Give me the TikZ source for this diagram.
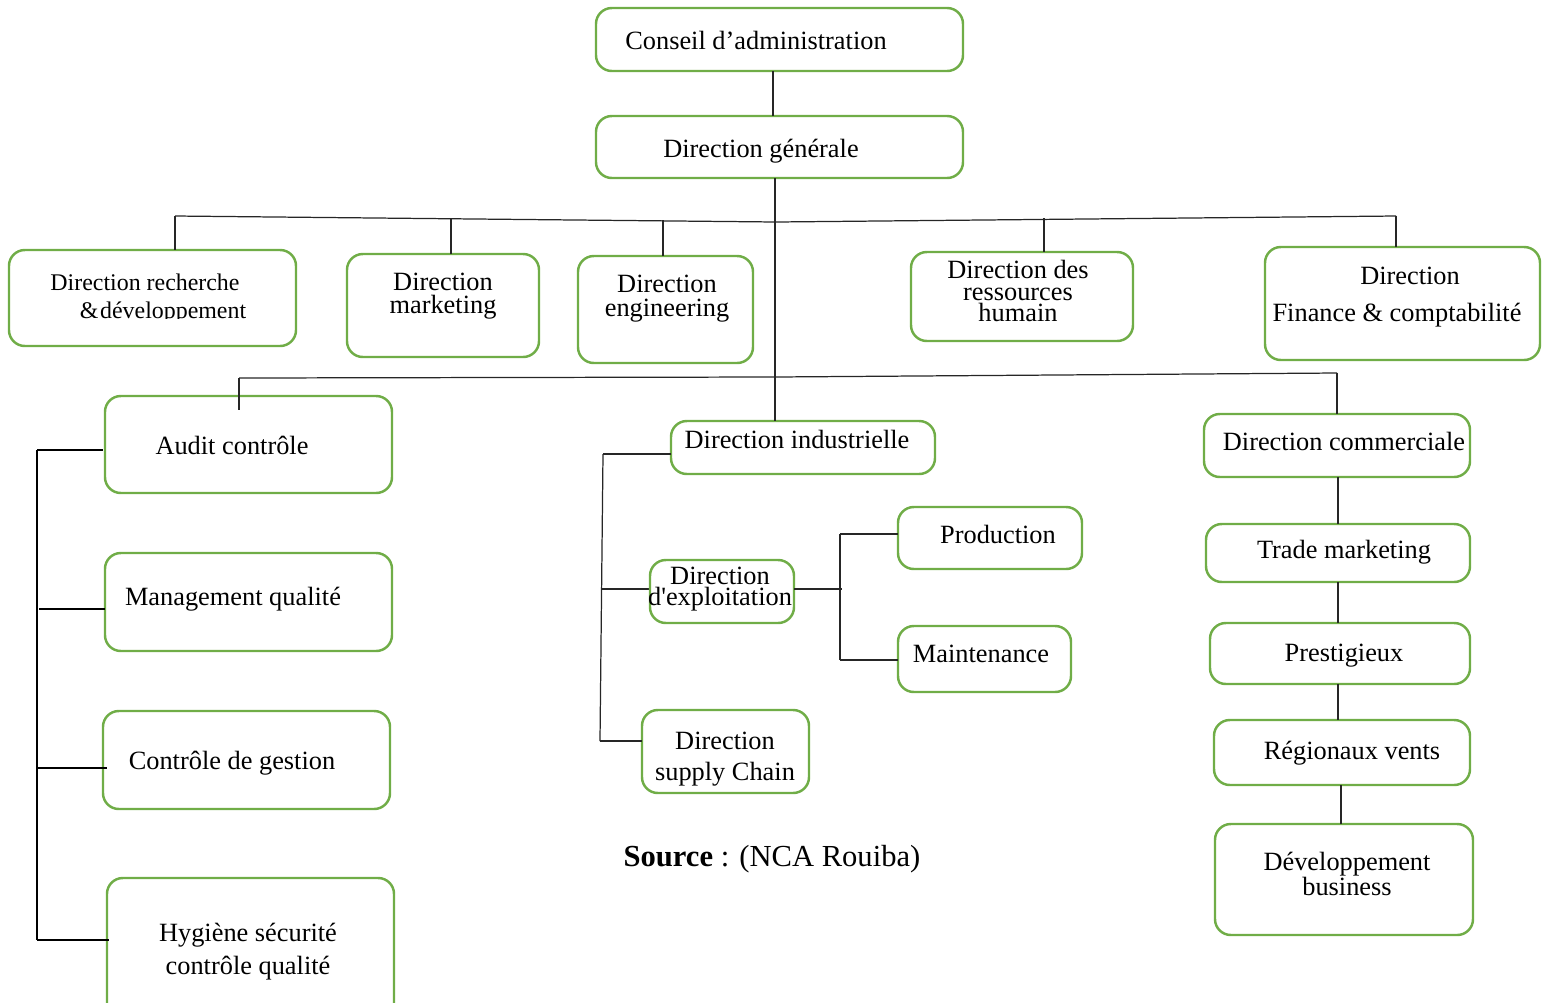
\documentclass[tikz,border=0pt]{standalone}
\usepackage{fontspec}
\setmainfont{Liberation Serif}
% same face without TeX ligature mapping, keeps the straight apostrophe
\newfontfamily\rawserif{Liberation Serif}
\usetikzlibrary{calc}
\definecolor{boxgreen}{RGB}{112,173,71}

% rounded box given by its corners (x1,y1) and (x2,y2) in pixel units
\newcommand\orgbox[5]{%
  \node[orgframe, minimum width={(#4-#2)*0.02cm}, minimum height={(#5-#3)*0.02cm}]
    (#1) at ({(#2+#4)/2},{(#3+#5)/2}) {};}

\tikzset{
  orgframe/.style={draw=boxgreen, line width=1.4pt, rounded corners=9pt,
                   inner sep=0pt, outer sep=0pt, fill=white},
  lbl/.style={inner sep=0pt, align=center, font=\fontsize{15}{18}\selectfont},
  link/.style={draw=black!85, line width=0.7pt},
  staff/.style={draw=black, line width=1.1pt},
}

\begin{document}
\begin{tikzpicture}[x=0.02cm, y=-0.02cm]
\useasboundingbox (0,0) rectangle (1549,1002);

% ---------- junction points ----------
\coordinate (cx0) at (773,0);
\coordinate (trunk) at (775,0);
\coordinate (b1L) at (175,216);
\coordinate (b1M) at (776,222);
\coordinate (b1R) at (1396,216);
\coordinate (dmk) at (451,219);
\coordinate (den) at (663,220);
\coordinate (drh) at (1044,218);
\coordinate (b2L) at (239,378);
\coordinate (b2M) at (775,377);
\coordinate (b2R) at (1337,373);
\coordinate (iL) at (603,454);
\coordinate (iM) at (601,589);
\coordinate (iB) at (600,741);
\coordinate (eM) at (842,589);
\coordinate (eT) at (840,534);
\coordinate (eB) at (840,660);
\coordinate (sT) at (37,450);
\coordinate (sM) at (39,609);
\coordinate (sC) at (37,768);
\coordinate (sB) at (37,940);
\coordinate (cxA) at (1338,0);
\coordinate (cxB) at (1341,0);

% ---------- connectors ----------
\draw[link] (b1L) -- (b1M) -- (b1R);
\draw[link] (b2L) -- (b2M) -- (b2R);
\draw[link] (iL) -- (iB);
\draw[link] (iM) -- ($(iM)+(49,0)$);
\draw[link] (eT) -- (eB);
\draw[staff] (sT) -- (sB);

% ---------- boxes ----------
\orgbox{conseil}{596}{8}{963}{71}
\orgbox{dg}{596}{116}{963}{178}
\orgbox{rd}{9}{250}{296}{346}
\orgbox{mk}{347}{254}{539}{357}
\orgbox{en}{578}{256}{753}{363}
\orgbox{rh}{911}{252}{1133}{341}
\orgbox{fin}{1265}{247}{1540}{360}
\orgbox{audit}{105}{396}{392}{493}
\orgbox{mq}{105}{553}{392}{651}
\orgbox{cg}{103}{711}{390}{809}
\orgbox{hyg}{107}{878}{394}{1020}
\orgbox{ind}{671}{421}{935}{474}
\orgbox{exp}{650}{560}{794}{623}
\orgbox{prod}{898}{507}{1082}{569}
\orgbox{maint}{898}{626}{1071}{692}
\orgbox{sup}{642}{710}{809}{793}
\orgbox{com}{1204}{414}{1470}{477}
\orgbox{trade}{1206}{524}{1470}{582}
\orgbox{prest}{1210}{623}{1470}{684}
\orgbox{reg}{1214}{720}{1470}{785}
\orgbox{devb}{1215}{824}{1473}{935}

% ---------- links touching the boxes ----------
\draw[link] (conseil.south -| cx0) -- (dg.north -| cx0);
\draw[link] (dg.south -| trunk) -- (ind.north -| trunk);
\draw[link] (b1L) -- (rd.north -| b1L);
\draw[link] (dmk) -- (mk.north -| dmk);
\draw[link] (den) -- (en.north -| den);
\draw[link] (drh) -- (rh.north -| drh);
\draw[link] (b1R) -- (fin.north -| b1R);
\draw[link] (b2L) -- ($(audit.north -| b2L)+(0,14)$);
\draw[link] (b2R) -- (com.north -| b2R);
\draw[link] (ind.west |- iL) -- (iL);
\draw[link] (iB) -- (sup.west |- iB);
\draw[link] (exp.east |- eM) -- (eM);
\draw[link] (eT) -- (prod.west |- eT);
\draw[link] (eB) -- (maint.west |- eB);
\draw[staff] (sT) -- ($(audit.west |- sT)+(-2,0)$);
\draw[staff] (sM) -- (mq.west |- sM);
\draw[staff] (sC) -- ($(cg.west |- sC)+(4,0)$);
\draw[staff] (sB) -- ($(hyg.west |- sB)+(2,0)$);
\draw[link] (com.south -| cxA) -- (trade.north -| cxA);
\draw[link] (trade.south -| cxA) -- (prest.north -| cxA);
\draw[link] (prest.south -| cxA) -- (reg.north -| cxA);
\draw[link] (reg.south -| cxB) -- (devb.north -| cxB);

% ---------- labels ----------
\node[lbl] (tconseil) at (756,40) {Conseil d’administration};
\node[lbl] (tdg) at (761,151) {Direction générale};
\begin{scope}
  \clip (9,250) rectangle (296,318);
  \node[lbl, font=\fontsize{13.6}{16}\selectfont] (trd1) at (145,282) {Direction recherche};
  \node[lbl, font=\fontsize{13.6}{16}\selectfont] (trd2) at (163,313) {\&\kern1pt développement};
\end{scope}
\node[lbl, font=\fontsize{15}{13}\selectfont] (tmk) at (443,296) {Direction\\marketing};
\node[lbl, font=\fontsize{15}{13.6}\selectfont] (ten) at (667,299) {Direction\\engineering};
\node[lbl, font=\fontsize{15}{12.2}\selectfont] (trh) at (1018,291) {Direction des\\ressources\\humain};
\node[lbl] (tfin1) at (1410,276) {Direction};
\node[lbl] (tfin2) at (1397,315) {Finance \& comptabilité};
\node[lbl] (taudit) at (232,445) {Audit contrôle};
\node[lbl] (tmq) at (233,599) {Management qualité};
\node[lbl] (tcg) at (232,763) {Contrôle de gestion};
\node[lbl, font=\fontsize{15}{18.7}\selectfont] (thyg) at (248,952) {Hygiène sécurité\\contrôle qualité};
\node[lbl] (tind) at (797,439) {Direction industrielle};
\node[lbl, font=\rawserif\fontsize{15}{11.9}\selectfont] (texp) at (720,589) {Direction\\d'exploitation};
\node[lbl] (tprod) at (998,534) {Production};
\node[lbl] (tmaint) at (981,654) {Maintenance};
\node[lbl, font=\fontsize{15}{18}\selectfont] (tsup) at (725,759) {Direction\\supply Chain};
\node[lbl] (tcom) at (1344,441) {Direction commerciale};
\node[lbl] (ttrade) at (1344,552) {Trade marketing};
\node[lbl] (tprest) at (1344,656) {Prestigieux};
\node[lbl] (treg) at (1352,753) {Régionaux vents};
\node[lbl, font=\fontsize{15}{13}\selectfont] (tdevb) at (1347,874) {Développement\\business};
\node[lbl, font=\fontsize{17.4}{20}\selectfont] (tsource) at (772,859) {\textbf{Source} : (NCA Rouiba)};
\end{tikzpicture}
\end{document}
